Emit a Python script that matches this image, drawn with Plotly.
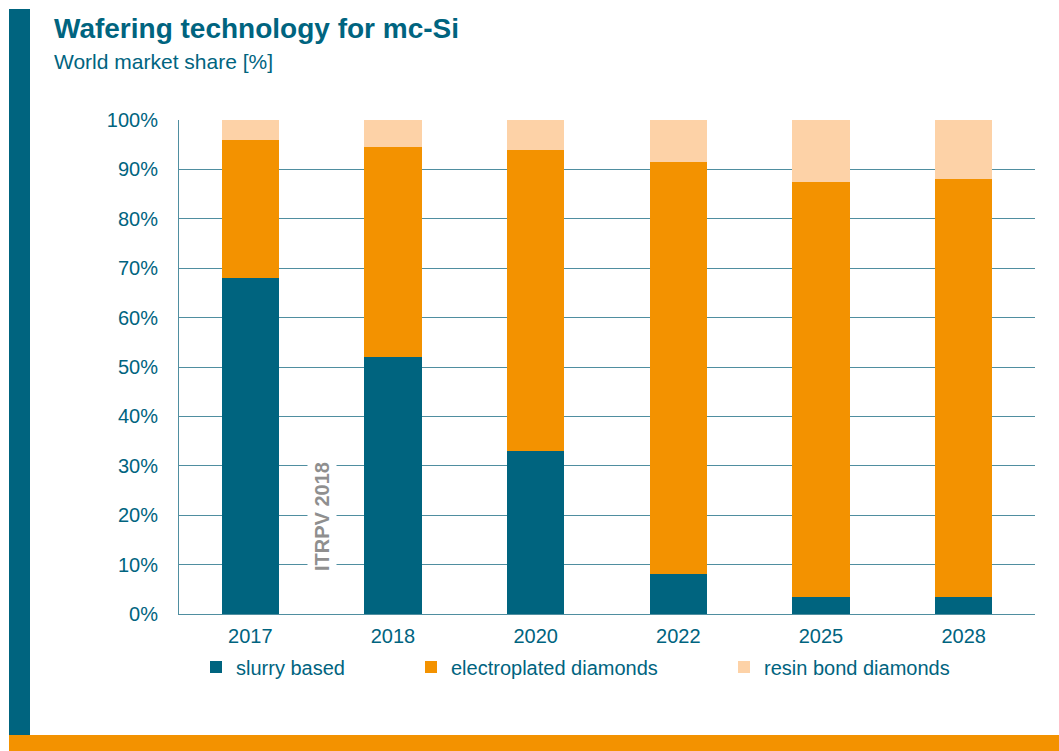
import plotly.graph_objects as go

# Market share of wafering technologies for mc-Si (ITRPV 2018)
years = ["2017", "2018", "2020", "2022", "2025", "2028"]
slurry_based = [68, 52, 33, 8, 3.5, 3.5]
electroplated_diamonds = [28, 42.5, 61, 83.5, 84, 84.5]
resin_bond_diamonds = [4, 5.5, 6, 8.5, 12.5, 12]
y_ticks = [0, 10, 20, 30, 40, 50, 60, 70, 80, 90, 100]
y_tick_labels = [f"{v}%" for v in y_ticks]

TEAL = "#00647F"
ORANGE = "#F39200"
PEACH = "#FDD2A7"
GRID = "#4F8EA0"
FONT = "Liberation Sans, Arial, sans-serif"

W, H = 1059, 751
L, R, T, B = 179, 24, 120, 137
PW, PH = W - L - R, H - T - B

fig = go.Figure()
series = [
    ("slurry based", slurry_based, TEAL, "legend"),
    ("electroplated diamonds", electroplated_diamonds, ORANGE, "legend2"),
    ("resin bond diamonds", resin_bond_diamonds, PEACH, "legend3"),
]
for name, vals, color, leg in series:
    fig.add_trace(go.Bar(
        x=years, y=vals, name=name, marker_color=color,
        marker_line_width=0, legend=leg,
    ))

# paper coordinates are relative to the plot area; convert from page pixels
def px_x(p):
    return (p - L) / PW

def px_y(p):
    return (H - B - p) / PH

leg_common = dict(
    orientation="h", yanchor="middle", xanchor="left",
    font=dict(family=FONT, size=20, color=TEAL),
    bgcolor="rgba(0,0,0,0)", itemwidth=30, tracegroupgap=0,
)

fig.update_layout(
    width=W, height=H,
    margin=dict(l=L, r=R, t=T, b=B),
    paper_bgcolor="white", plot_bgcolor="white",
    barmode="stack", bargap=0.6,
    font=dict(family=FONT, color=TEAL),
    xaxis=dict(
        showgrid=False, showline=True, linecolor=GRID, linewidth=1,
        ticks="", tickfont=dict(size=20, color=TEAL), ticklabelstandoff=4,
    ),
    yaxis=dict(
        range=[0, 100], tickvals=y_ticks, ticktext=y_tick_labels,
        showgrid=True, gridcolor=GRID, gridwidth=1,
        showline=True, linecolor=GRID, linewidth=1,
        ticks="", tickfont=dict(size=20, color=TEAL), ticklabelstandoff=16,
        zeroline=False,
    ),
    legend=dict(x=px_x(196), y=px_y(667), **leg_common),
    legend2=dict(x=px_x(411), y=px_y(667), **leg_common),
    legend3=dict(x=px_x(724), y=px_y(667), **leg_common),
    showlegend=True,
    shapes=[
        dict(type="rect", xref="paper", yref="paper", layer="above",
             x0=px_x(9), x1=px_x(30), y0=px_y(735), y1=px_y(9),
             fillcolor=TEAL, line_width=0),
        dict(type="rect", xref="paper", yref="paper", layer="above",
             x0=px_x(9), x1=px_x(W), y0=px_y(H), y1=px_y(735),
             fillcolor=ORANGE, line_width=0),
    ],
    annotations=[
        dict(text="<b>Wafering technology for mc-Si</b>", xref="paper", yref="paper",
             x=px_x(52), y=px_y(28), xanchor="left", yanchor="middle",
             showarrow=False, font=dict(family=FONT, size=28, color=TEAL)),
        dict(text="World market share [%]", xref="paper", yref="paper",
             x=px_x(52), y=px_y(61), xanchor="left", yanchor="middle",
             showarrow=False, font=dict(family=FONT, size=21, color=TEAL)),
        dict(text="<b>ITRPV 2018</b>", xref="paper", yref="paper",
             x=px_x(322), y=px_y(517),
             xanchor="center", yanchor="middle", textangle=-90,
             showarrow=False, bgcolor="white", borderpad=3,
             font=dict(family=FONT, size=20, color="#8F8F8F")),
    ],
)

fig.write_html("out.html")
